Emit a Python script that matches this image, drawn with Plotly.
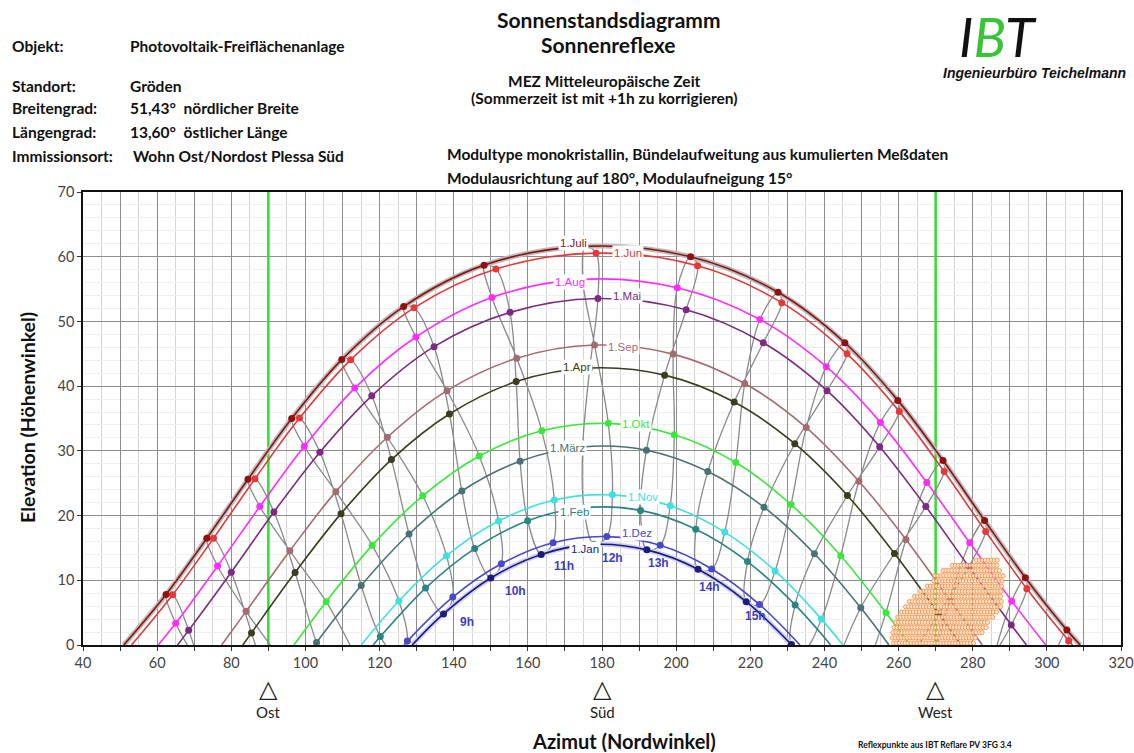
import numpy as np
import plotly.graph_objects as go

# ---------------- data ----------------
date_labels = ["1.Jan", "1.Feb", "1.März", "1.Apr", "1.Mai", "1.Jun",
               "1.Juli", "1.Aug", "1.Sep", "1.Okt", "1.Nov", "1.Dez"]
date_colors = ["#1c1c7a", "#2b8585", "#4a7272", "#3c3c20", "#7b2b82", "#e23a3a",
               "#8e1212", "#ff2cff", "#a46c72", "#3ae83a", "#3ee0e0", "#4747cf"]

jan_hours = [9, 10, 11, 12, 13, 14, 15, 16]
jan_az = [137.25, 150.0, 163.6, 177.8, 192.1, 205.9, 218.9, 231.1]
jan_el = [4.8, 10.35, 14.0, 15.55, 14.7, 11.7, 6.7, 0.06]

feb_hours = [8, 9, 10, 11, 12, 13, 14, 15, 16]
feb_az = [120.2, 132.4, 145.65, 159.95, 175.1, 190.4, 205.3, 219.25, 232.1]
feb_el = [1.3, 8.8, 14.9, 19.2, 21.2, 20.8, 17.9, 12.9, 6.2]

mar_hours = [7, 8, 9, 10, 11, 12, 13, 14, 15, 16, 17]
mar_az = [103.0, 115.05, 127.95, 142.2, 157.9, 174.8, 192.0, 208.55, 223.7, 237.3, 249.8]
mar_el = [0.37, 9.2, 17.15, 23.8, 28.4, 30.6, 30.1, 26.8, 21.3, 14.1, 5.75]

apr_hours = [6, 7, 8, 9, 10, 11, 12, 13, 14, 15, 16, 17, 18]
apr_az = [85.45, 97.2, 109.6, 123.2, 138.85, 156.85, 176.7, 196.9, 215.65, 232.0, 246.2, 258.9, 270.8]
apr_el = [1.87, 11.2, 20.3, 28.65, 35.7, 40.7, 42.8, 41.7, 37.55, 31.1, 23.1, 14.15, 4.85]

mai_hours = [5, 6, 7, 8, 9, 10, 11, 12, 13, 14, 15, 16, 17, 18, 19]
mai_az = [68.5, 80.0, 91.5, 103.9, 117.9, 134.7, 155.2, 178.9, 202.7, 223.5, 240.7, 254.9, 267.35, 278.95, 290.4]
mai_el = [2.26, 11.25, 20.55, 29.8, 38.5, 46.1, 51.4, 53.55, 51.8, 46.7, 39.3, 30.65, 21.4, 12.1, 3.1]

jun_hours = [5, 6, 7, 8, 9, 10, 11, 12, 13, 14, 15, 16, 17, 18, 19, 20]
jun_az = [64.2, 75.2, 86.4, 98.4, 112.2, 129.3, 151.4, 178.4, 205.8, 228.5, 246.1, 260.2, 272.3, 283.5, 294.6, 305.9]
jun_el = [7.76, 16.5, 25.7, 35.06, 44.07, 52.1, 58.1, 60.55, 58.6, 52.9, 45.0, 36.1, 26.8, 17.55, 8.7, 0.65]

jul_hours = [5, 6, 7, 8, 9, 10, 11, 12, 13, 14, 15, 16, 17, 18, 19, 20]
jul_az = [62.4, 73.4, 84.5, 96.3, 109.8, 126.5, 148.2, 175.5, 203.9, 227.5, 245.5, 259.8, 272.0, 283.2, 294.2, 305.4]
jul_el = [7.8, 16.5, 25.6, 35.0, 44.1, 52.3, 58.7, 61.6, 60.0, 54.5, 46.7, 37.8, 28.5, 19.25, 10.4, 2.3]

aug_hours = [5, 6, 7, 8, 9, 10, 11, 12, 13, 14, 15, 16, 17, 18, 19]
aug_az = [65.0, 76.3, 87.7, 99.7, 113.3, 129.8, 150.3, 174.8, 200.3, 222.6, 240.5, 255.1, 267.6, 279.2, 290.5]
aug_el = [3.35, 12.2, 21.4, 30.7, 39.7, 47.6, 53.7, 56.5, 55.2, 50.3, 43.0, 34.4, 25.1, 15.8, 6.8]

sep_hours = [6, 7, 8, 9, 10, 11, 12, 13, 14, 15, 16, 17, 18]
sep_az = [84.0, 95.8, 108.2, 122.1, 138.2, 157.0, 178.0, 199.2, 218.5, 235.1, 249.3, 262.0, 273.8]
sep_el = [5.2, 14.55, 23.7, 32.1, 39.3, 44.3, 46.35, 44.95, 40.4, 33.6, 25.3, 16.3, 6.96]

okt_hours = [7, 8, 9, 10, 11, 12, 13, 14, 15, 16, 17]
okt_az = [105.6, 118.0, 131.65, 146.9, 163.75, 181.7, 199.5, 216.1, 231.0, 244.4, 256.6]
okt_el = [6.7, 15.4, 23.05, 29.2, 33.1, 34.25, 32.5, 28.2, 21.7, 13.8, 5.0]

nov_hours = [8, 9, 10, 11, 12, 13, 14, 15, 16]
nov_az = [125.2, 138.05, 152.1, 167.15, 182.8, 198.4, 213.1, 226.7, 239.2]
nov_el = [6.8, 13.8, 19.15, 22.4, 23.2, 21.5, 17.45, 11.45, 4.0]

dez_hours = [8, 9, 10, 11, 12, 13, 14, 15]
dez_az = [127.5, 139.75, 152.85, 166.8, 181.3, 195.7, 209.6, 222.5]
dez_el = [0.6, 7.4, 12.55, 15.8, 16.75, 15.4, 11.75, 6.25]

# sunrise / sunset azimuth (elevation 0)
rise_az = [128.8, 118.3, 102.6, 83.1, 65.5, 53.1, 51.0, 60.3, 77.4, 96.9, 115.05, 126.6]
set_az = [231.2, 241.7, 257.4, 276.9, 294.5, 306.9, 309.0, 299.7, 282.6, 263.1, 244.95, 233.4]

# hour-line points just below the horizon (continue the gray analemma lines)
below_hour = [5, 5, 6, 6, 7, 7, 8, 16, 17, 17, 18, 18, 19, 19, 20, 20]
below_month = [3, 8, 2, 9, 1, 10, 0, 11, 1, 10, 2, 9, 3, 8, 4, 7]
below_az = [73.6, 72.3, 91.4, 93.8, 108.6, 113.2, 125.35, 234.55, 244.1, 250.95, 261.6, 268.4, 282.6, 285.5, 302.2, 302.0]
below_el = [-7.3, -3.9, -8.9, -2.5, -7.2, -1.35, -2.2, -0.7, -1.7, -4.5, -3.3, -4.2, -4.4, -2.2, -5.3, -1.6]

# curve label positions
label_az = [175.4, 172.5, 170.6, 173.2, 186.75, 186.9, 172.4, 171.5, 185.75, 189.2, 191.0, 189.5]
label_el = [14.9, 20.6, 30.5, 43.0, 53.9, 60.6, 62.1, 56.1, 46.1, 34.15, 22.9, 17.35]

# hour labels
hour_label_text = ["9h", "10h", "11h", "12h", "13h", "14h", "15h"]
hour_label_az = [143.5, 156.8, 169.75, 182.9, 195.3, 209.0, 221.5]
hour_label_el = [3.6, 8.4, 12.2, 13.4, 12.7, 8.9, 4.5]

# reflex point cloud: rows (elevation, azimuth start, azimuth end)
cloud_el = [0.3, 1.1, 1.9, 2.7, 3.5, 4.3, 5.1, 5.9, 6.7, 7.5, 8.3, 9.1, 9.9, 10.7, 11.5, 12.3, 13.1]
cloud_start = [258.6, 258.3, 258.5, 258.8, 259.2, 259.8, 260.8, 261.9, 262.9, 264.3, 266.0, 267.8, 269.5, 269.8, 272.0, 274.5, 281.0]
cloud_end = [280.2, 281.4, 282.6, 283.6, 284.6, 285.7, 286.8, 287.5, 287.9, 288.1, 288.2, 288.3, 288.5, 288.3, 287.6, 287.2, 286.8]
cloud_step = 0.8

compass_az = [90, 180, 270]
compass_names = ["Ost", "Süd", "West"]

x_ticks = list(range(40, 321, 10))
y_ticks = list(range(0, 71, 10))

# ---------------- figure ----------------
hours_all = [jan_hours, feb_hours, mar_hours, apr_hours, mai_hours, jun_hours,
             jul_hours, aug_hours, sep_hours, okt_hours, nov_hours, dez_hours]
az_all = [jan_az, feb_az, mar_az, apr_az, mai_az, jun_az, jul_az, aug_az, sep_az, okt_az, nov_az, dez_az]
el_all = [jan_el, feb_el, mar_el, apr_el, mai_el, jun_el, jul_el, aug_el, sep_el, okt_el, nov_el, dez_el]

W, H = 1134, 753
L, R, T, B = 83, 13, 192, 108
PW, PH = W - L - R, H - T - B


def px(xs):
    return (xs - L) / PW


def py(ys):
    return (H - B - ys) / PH


fig = go.Figure()

# green east/west lines
for a in (compass_az[0], compass_az[2]):
    fig.add_trace(go.Scatter(x=[a, a], y=[0, 70], mode="lines",
                             line=dict(color="#2ee02e", width=2.5), hoverinfo="skip"))

# hour lines (gray analemmas)
for h in range(5, 21):
    pts = {}
    for m in range(12):
        if h in hours_all[m]:
            i = hours_all[m].index(h)
            pts[m] = (az_all[m][i], el_all[m][i])
    for bh, bm, ba, be in zip(below_hour, below_month, below_az, below_el):
        if bh == h:
            pts[bm] = (ba, be)
    order = sorted(pts.keys())
    if len(order) == 12:
        order = order + [order[0]]
    fig.add_trace(go.Scatter(x=[pts[m][0] for m in order], y=[pts[m][1] for m in order],
                             mode="lines", line=dict(color="#8a8a8a", width=1.3, shape="spline", smoothing=1.0),
                             hoverinfo="skip"))


def curve(m):
    xs = list(az_all[m])
    ys = list(el_all[m])
    if ys[0] > 0.2:
        xs = [rise_az[m]] + xs
        ys = [0] + ys
    if ys[-1] > 0.2:
        xs = xs + [set_az[m]]
        ys = ys + [0]
    return xs, ys


# halo underlays (solstice bands)
for m, col in ((6, "#bcbcbc"), (0, "#cfcff4")):
    xs, ys = curve(m)
    fig.add_trace(go.Scatter(x=xs, y=ys, mode="lines",
                             line=dict(color=col, width=5, shape="spline", smoothing=1.0), hoverinfo="skip"))

# date curves
for m in range(12):
    xs, ys = curve(m)
    fig.add_trace(go.Scatter(x=xs, y=ys, mode="lines",
                             line=dict(color=date_colors[m], width=1.6, shape="spline", smoothing=1.0),
                             hoverinfo="skip"))
for m in range(12):
    fig.add_trace(go.Scatter(x=az_all[m], y=el_all[m], mode="markers",
                             marker=dict(color=date_colors[m], size=7), hoverinfo="skip"))

# reflex points
cx, cy = [], []
for e, s, t in zip(cloud_el, cloud_start, cloud_end):
    row = np.arange(s, t + 1e-6, cloud_step)
    cx.extend(row.tolist())
    cy.extend([e] * len(row))
fig.add_trace(go.Scatter(x=cx, y=cy, mode="markers",
                         marker=dict(symbol="circle", size=4.2, color="#fde6cc",
                                     line=dict(color="#f08a40", width=0.9)),
                         opacity=0.92, hoverinfo="skip"))

ann = []
# curve labels
for m in range(12):
    ann.append(dict(x=label_az[m], y=label_el[m], xref="x", yref="y", text=date_labels[m],
                    showarrow=False, bgcolor="white", borderpad=1, xanchor="center", yanchor="middle",
                    font=dict(family="Liberation Sans", size=11.5, color=date_colors[m])))
for t_, a_, e_ in zip(hour_label_text, hour_label_az, hour_label_el):
    ann.append(dict(x=a_, y=e_, xref="x", yref="y", text="<b>%s</b>" % t_, showarrow=False,
                    xanchor="center", yanchor="middle",
                    font=dict(family="Liberation Sans", size=12, color="#3d3dc4")))
# compass markers
for a_, n_ in zip(compass_az, compass_names):
    ann.append(dict(x=a_, y=py(689), xref="x", yref="paper", text="△", showarrow=False,
                    xanchor="center", yanchor="middle",
                    font=dict(family="DejaVu Sans", size=24, color="#222")))
    ann.append(dict(x=a_, y=py(712), xref="x", yref="paper", text=n_, showarrow=False,
                    xanchor="center", yanchor="middle",
                    font=dict(family="Lato", size=15, color="#222")))


def txt(x, y, s, size=15.5, xanchor="left", family="Lato", weight=None, color="#111", **kw):
    f = dict(family=family, size=size, color=color)
    if weight is not None:
        f["weight"] = weight
    ann.append(dict(x=px(x), y=py(y), xref="paper", yref="paper", text=s, showarrow=False,
                    xanchor=xanchor, yanchor="middle", font=f, **kw))


# header info block
txt(10, 46, "<b>Objekt:</b>")
txt(128, 46, "<b>Photovoltaik-Freiflächenanlage</b>")
txt(10, 86, "<b>Standort:</b>")
txt(128, 86, "<b>Gröden</b>")
txt(10, 108, "<b>Breitengrad:</b>")
txt(128, 108, "<b>51,43°  nördlicher Breite</b>")
txt(10, 132, "<b>Längengrad:</b>")
txt(128, 132, "<b>13,60°  östlicher Länge</b>")
txt(10, 156, "<b>Immissionsort:</b>")
txt(131, 156, "<b>Wohn Ost/Nordost Plessa Süd</b>")

txt(609, 19, "<b>Sonnenstandsdiagramm</b>", size=21, xanchor="center")
txt(608, 45, "<b>Sonnenreflexe</b>", size=21, xanchor="center")
txt(604, 81, "<b>MEZ Mitteleuropäische Zeit</b>", size=15.5, xanchor="center")
txt(604, 98, "<b>(Sommerzeit ist mit +1h zu korrigieren)</b>", size=15.5, xanchor="center")
txt(445, 154, "<b>Modultype monokristallin, Bündelaufweitung aus kumulierten Meßdaten</b>", size=15.5)
txt(445, 178, "<b>Modulausrichtung auf 180°, Modulaufneigung 15°</b>", size=15.5)

# logo
txt(998, 36, "<i>I<span style='color:#39c339'>B</span>T</i>", size=54, xanchor="center",
    family="Lato", weight=400, color="#111")
txt(1034, 73, "<b><i>Ingenieurbüro Teichelmann</i></b>", size=14, xanchor="center",
    family="Liberation Sans")

# axis titles and footnote
ann.append(dict(x=px(27), y=py(418), xref="paper", yref="paper", text="<b>Elevation (Höhenwinkel)</b>",
                textangle=-90, showarrow=False, xanchor="center", yanchor="middle",
                font=dict(family="Lato", size=19.5, color="#111")))
txt(624, 741, "<b>Azimut (Nordwinkel)</b>", size=20, xanchor="center")
txt(935, 745, "<b>Reflexpunkte aus IBT Reflare PV 3FG 3.4</b>", size=8.5, xanchor="center")

fig.update_layout(
    width=W, height=H, autosize=False,
    margin=dict(l=L, r=R, t=T, b=B, autoexpand=False),
    paper_bgcolor="white", plot_bgcolor="white",
    showlegend=False,
    annotations=ann,
    xaxis=dict(range=[40, 320], tickvals=x_ticks,
               ticktext=[str(v) if v % 20 == 0 else "" for v in x_ticks],
               ticklabeloverflow="allow", automargin=False,
               showgrid=True, gridcolor="#8e8e8e", gridwidth=1,
               minor=dict(dtick=5, tick0=0, showgrid=True, gridcolor="#d4d4d4", gridwidth=1),
               showline=True, linecolor="#111", linewidth=1.5, mirror=True,
               ticks="outside", ticklen=4, tickcolor="#333", zeroline=False,
               tickfont=dict(family="Lato", size=14.5, color="#444")),
    yaxis=dict(range=[0, 70], tickvals=y_ticks, automargin=False,
               showgrid=True, gridcolor="#8e8e8e", gridwidth=1,
               minor=dict(dtick=2, tick0=0, showgrid=True, gridcolor="#efefef", gridwidth=1),
               showline=True, linecolor="#111", linewidth=1.5, mirror=True,
               ticks="outside", ticklen=4, tickcolor="#333", zeroline=False,
               tickfont=dict(family="Lato", size=14.5, color="#444")),
)

fig.write_html("out.html", config={"displayModeBar": False},
               post_script="document.body.style.margin='0';document.body.style.overflow='hidden';")
